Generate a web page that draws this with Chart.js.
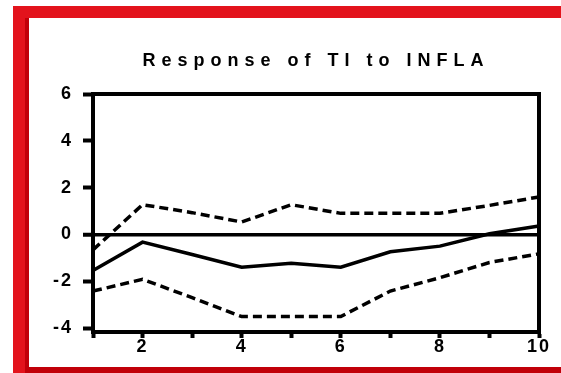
<!DOCTYPE html>
<html>
<head>
<meta charset="utf-8">
<script src="https://cdn.jsdelivr.net/npm/chart.js@4.4.1/dist/chart.umd.min.js"></script>
<style>
  html, body { margin: 0; padding: 0; background: #fff; }
  #wrap { position: relative; width: 561px; height: 373px; overflow: hidden; background: #fff; }
  #wrap canvas { position: absolute; left: 0; top: 0; }
  .band { position: absolute; }
</style>
</head>
<body>
<div id="wrap">
  <!-- red frame around the graph panel -->
  <div class="band" style="left:13px;top:6px;width:548px;height:12px;background:#e3131c"></div>
  <div class="band" style="left:13px;top:6px;width:12px;height:367px;background:#e3131c"></div>
  <div class="band" style="left:25px;top:18px;width:4px;height:355px;background:#c10009"></div>
  <div class="band" style="left:25px;top:367px;width:536px;height:6px;background:#c10009"></div>
  <canvas id="c" width="561" height="373"></canvas>
</div>
<script>
// Impulse response of TI to a shock in INFLA, with +/- 2 S.E. bands
const periods = [1, 2, 3, 4, 5, 6, 7, 8, 9, 10];
const response = [-1.54, -0.33, -0.86, -1.40, -1.23, -1.40, -0.74, -0.50, 0.03, 0.36];
const upperBand = [-0.66, 1.27, 0.93, 0.53, 1.27, 0.90, 0.90, 0.90, 1.24, 1.60];
const lowerBand = [-2.42, -1.92, -2.70, -3.51, -3.51, -3.51, -2.42, -1.85, -1.20, -0.83];
const yTickValues = [-4, -2, 0, 2, 4, 6];
const titleText = 'Response of TI to INFLA';

const fontFamily = "'Liberation Sans', Arial, sans-serif";

// closes the plot box on the top and right sides
const plotFrame = {
  id: 'plotFrame',
  beforeDatasetsDraw(chart) {
    const { ctx, chartArea: a } = chart;
    ctx.save();
    ctx.strokeStyle = '#000';
    ctx.lineWidth = 4;
    ctx.lineCap = 'square';
    ctx.beginPath();
    ctx.moveTo(a.left, a.top);
    ctx.lineTo(a.right, a.top);
    ctx.lineTo(a.right, a.bottom);
    ctx.stroke();
    ctx.restore();
  }
};

// wide letter spacing: title is drawn before datasets, tick labels after
const textSpacing = {
  id: 'textSpacing',
  beforeDraw(chart) { chart.ctx.letterSpacing = '6px'; },
  beforeDatasetsDraw(chart) { chart.ctx.letterSpacing = '2px'; },
  afterDraw(chart) { chart.ctx.letterSpacing = '0px'; }
};

const lineStyle = { borderColor: '#000', backgroundColor: '#000', borderWidth: 3.5, pointRadius: 0, tension: 0, fill: false };

new Chart(document.getElementById('c'), {
  type: 'line',
  data: {
    labels: periods,
    datasets: [
      Object.assign({ label: 'Response', data: response }, lineStyle),
      Object.assign({ label: 'Upper', data: upperBand, borderDash: [9, 5] }, lineStyle),
      Object.assign({ label: 'Lower', data: lowerBand, borderDash: [9, 5] }, lineStyle)
    ]
  },
  options: {
    responsive: false,
    animation: false,
    devicePixelRatio: 1,
    layout: { padding: { left: 0, right: 22, top: 0, bottom: 0 } },
    plugins: {
      legend: { display: false },
      tooltip: { enabled: false },
      title: {
        display: true,
        text: titleText,
        fullSize: false,
        color: '#000',
        font: { family: fontFamily, size: 18, weight: 'bold' },
        padding: { top: 50, bottom: 22.4 }
      }
    },
    scales: {
      x: {
        type: 'category',
        offset: false,
        grid: {
          display: true,
          drawOnChartArea: false,
          drawTicks: true,
          tickLength: 6,
          tickWidth: 4,
          tickColor: '#000',
          color: '#000'
        },
        border: { display: true, color: '#000', width: 4 },
        ticks: {
          z: 1,
          autoSkip: false,
          maxRotation: 0,
          padding: -2,
          color: '#000',
          font: { family: fontFamily, size: 18, weight: 'bold' },
          callback: (v, i) => (periods[i] % 2 === 0 ? String(periods[i]) : '')
        },
        afterFit: (s) => { s.height = 41; }
      },
      y: {
        min: -4.17,
        max: 6,
        afterBuildTicks: (s) => { s.ticks = yTickValues.map((v) => ({ value: v })); },
        grid: {
          drawOnChartArea: true,
          color: (c) => (c.tick && c.tick.value === 0 ? '#000' : 'rgba(0,0,0,0)'),
          lineWidth: (c) => (c.tick && c.tick.value === 0 ? 3.5 : 1),
          tickColor: '#000',
          tickWidth: 4,
          tickLength: 10
        },
        border: { display: true, color: '#000', width: 4 },
        ticks: {
          z: 1,
          padding: 10,
          color: '#000',
          font: { family: fontFamily, size: 18, weight: 'bold' },
          callback: (v) => String(v)
        },
        afterFit: (s) => { s.width = 93; }
      }
    }
  },
  plugins: [plotFrame, textSpacing]
});
</script>
</body>
</html>
